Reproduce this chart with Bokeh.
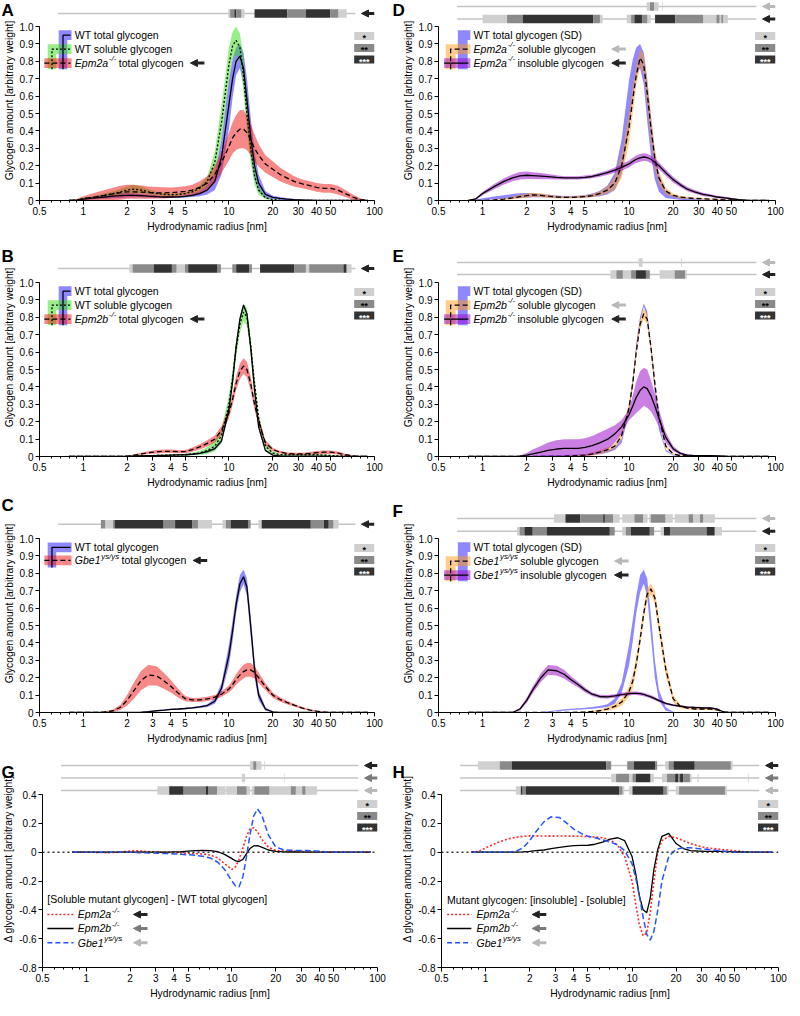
import numpy as np
from bokeh.plotting import figure
from bokeh.layouts import row, column
from bokeh.models import (ColumnDataSource, FixedTicker, CustomJSTickFormatter, Span,
                          Arrow, NormalHead, GridBox)
from bokeh.core.properties import value
from bokeh.embed import file_html
from bokeh.resources import INLINE

FONT = "Liberation Sans"

# ---------------------------------------------------------------- data
X = [0.8, 0.9, 1.0, 1.2, 1.4, 1.6, 1.8, 2.0, 2.2, 2.5, 2.8, 3.2, 3.6, 4.0, 4.5,
     5.0, 5.6, 6.3, 7.1, 8.0, 8.9, 10.0, 10.6, 11.2, 11.9, 12.6, 13.3, 14.1, 15.0, 16.0,
     17.8, 20.0, 22.4, 25.0, 28.0, 32.0, 36.0, 40.0, 45.0, 50.0, 56.0, 63.0, 71.0, 80.0, 90.0]

XTICKS = [0.5, 1, 2, 3, 4, 5, 10, 20, 30, 40, 50, 100]
XMINOR = [0.6, 0.7, 0.8, 0.9, 6, 7, 8, 9, 60, 70, 80, 90]
YTICKS_AF = [0, 0.1, 0.2, 0.3, 0.4, 0.5, 0.6, 0.7, 0.8, 0.9, 1.0]
YTICKS_GH = [-0.8, -0.6, -0.4, -0.2, 0, 0.2, 0.4]
LETTERS = ["A", "B", "C", "D", "E", "F", "G", "H"]
# (column, row) of each lettered panel
LETTER_CELLS = [(0, 1), (0, 2), (0, 3), (1, 1), (1, 2), (1, 3), (0, 4), (1, 4)]

# WT total glycogen (group 1: A / D)
WT_TOTAL_1 = [0, .002, .008, .015, .02, .025, .028, .03, .03, .028, .025, .022, .02, .02, .021,
              .024, .03, .04, .06, .11, .25, .55, .70, .80, .83, .76, .58, .37, .20, .10,
              .035, .018, .012, .008, .005, .003, .002, .001, 0, 0, 0, 0, 0, 0, 0]
WT_TOTAL_1_SD = [0, .002, .005, .008, .01, .012, .013, .013, .012, .01, .008, .007, .006, .006, .006,
                 .007, .01, .015, .025, .05, .1, .14, .11, .08, .07, .09, .12, .11, .08, .05,
                 .02, .01, .008, .006, .004, .003, .002, .001, 0, 0, 0, 0, 0, 0, 0]
WT_SOL_1 = [0, .003, .01, .02, .03, .04, .05, .06, .065, .06, .05, .04, .035, .033, .035,
            .04, .05, .07, .11, .22, .45, .78, .89, .92, .88, .72, .50, .30, .14, .06,
            .015, .005, .002, 0, 0, 0, 0, 0, 0, 0, 0, 0, 0, 0, 0]
WT_SOL_1_SD = [0, .002, .005, .008, .01, .013, .016, .02, .025, .02, .015, .01, .008, .007, .007,
               .008, .01, .015, .03, .06, .1, .1, .08, .08, .08, .1, .1, .08, .05, .025,
               .008, .003, .001, 0, 0, 0, 0, 0, 0, 0, 0, 0, 0, 0, 0]
EPM2A_TOTAL = [0, .003, .01, .02, .03, .038, .045, .05, .05, .048, .045, .044, .044, .045, .048,
               .052, .06, .075, .10, .15, .22, .31, .36, .39, .41, .41, .39, .35, .30, .26,
               .21, .18, .15, .13, .11, .095, .085, .075, .07, .07, .06, .04, .02, .005, 0]
EPM2A_TOTAL_SD = [0, .005, .015, .025, .03, .035, .04, .04, .04, .038, .035, .033, .032, .03, .03,
                  .03, .03, .035, .04, .05, .06, .08, .09, .1, .11, .11, .1, .09, .08, .065,
                  .05, .045, .04, .035, .03, .025, .025, .025, .025, .025, .025, .02, .015, .008, 0]

# group 2: B / E
WT_TOTAL_2 = [0, 0, 0, 0, 0, 0, 0, 0, .002, .004, .005, .006, .007, .008, .009,
              .01, .013, .018, .028, .045, .09, .27, .43, .63, .79, .87, .82, .63, .38, .17,
              .035, .008, .003, .002, .002, .002, .002, .002, .002, .001, 0, 0, 0, 0, 0]
WT_TOTAL_2_SD = [0, 0, 0, 0, 0, 0, 0, 0, .001, .002, .002, .002, .002, .002, .002,
                 .003, .004, .005, .006, .008, .012, .02, .02, .02, .015, .01, .015, .02, .02, .015,
                 .005, .002, .001, .001, .001, .001, .001, .001, .001, 0, 0, 0, 0, 0, 0]
WT_SOL_2 = [0, 0, 0, 0, 0, 0, 0, 0, .002, .004, .005, .006, .007, .008, .009,
            .01, .015, .02, .035, .06, .12, .30, .45, .62, .76, .83, .80, .64, .42, .22,
            .06, .02, .01, .01, .01, .01, .01, .01, .008, .006, .004, .002, 0, 0, 0]
WT_SOL_2_SD = [0, 0, 0, 0, 0, 0, 0, 0, .001, .002, .003, .003, .003, .004, .004,
               .005, .008, .012, .02, .03, .04, .05, .05, .05, .05, .05, .05, .05, .04, .03,
               .015, .008, .005, .004, .004, .004, .004, .004, .003, .003, .002, .001, 0, 0, 0]
EPM2B_TOTAL = [0, 0, 0, 0, 0, 0, 0, .002, .006, .015, .022, .027, .03, .03, .028,
               .028, .04, .055, .075, .10, .15, .25, .33, .42, .49, .52, .50, .42, .30, .20,
               .08, .04, .025, .018, .015, .015, .018, .022, .025, .025, .02, .01, .004, 0, 0]
EPM2B_TOTAL_SD = [0, 0, 0, 0, 0, 0, 0, .002, .004, .006, .008, .01, .01, .01, .01,
                  .01, .012, .015, .018, .02, .025, .03, .035, .04, .045, .045, .045, .04, .03, .025,
                  .015, .01, .008, .007, .007, .007, .008, .009, .01, .01, .009, .006, .003, 0, 0]

# group 3: C / F
WT_TOTAL_3 = [0, 0, 0, 0, 0, 0, 0, 0, 0, .002, .005, .01, .014, .018, .02,
              .023, .027, .032, .04, .065, .14, .33, .47, .62, .74, .78, .72, .50, .25, .10,
              .02, .003, 0, 0, 0, 0, 0, 0, 0, 0, 0, 0, 0, 0, 0]
WT_TOTAL_3_SD = [0, 0, 0, 0, 0, 0, 0, 0, 0, .001, .002, .003, .004, .004, .004,
                 .004, .005, .006, .008, .015, .03, .06, .06, .05, .05, .04, .05, .06, .05, .03,
                 .01, .002, 0, 0, 0, 0, 0, 0, 0, 0, 0, 0, 0, 0, 0]
GBE1_TOTAL = [0, 0, 0, 0, .003, .01, .03, .07, .12, .185, .215, .21, .18, .15, .11,
              .08, .072, .073, .078, .088, .105, .135, .16, .19, .215, .235, .245, .245, .23, .20,
              .15, .10, .075, .058, .042, .025, .014, .008, .003, 0, 0, 0, 0, 0, 0]
GBE1_TOTAL_SD = [0, 0, 0, 0, .003, .007, .015, .03, .045, .055, .06, .055, .045, .035, .025,
                 .015, .012, .012, .012, .013, .015, .02, .025, .03, .035, .04, .04, .04, .035, .03,
                 .02, .015, .012, .01, .008, .006, .004, .003, .002, 0, 0, 0, 0, 0, 0]

# soluble / insoluble fractions
EPM2A_SOL = [0, 0, 0, .003, .008, .015, .022, .028, .032, .03, .025, .02, .018, .018, .02,
             .022, .028, .04, .06, .10, .20, .42, .58, .72, .82, .78, .62, .42, .24, .13,
             .055, .03, .02, .015, .012, .01, .008, .006, .004, .003, .002, 0, 0, 0, 0]
EPM2A_SOL_SD = [0, 0, 0, .003, .005, .008, .01, .012, .012, .012, .01, .008, .007, .007, .007,
                .008, .01, .012, .02, .04, .07, .09, .08, .06, .05, .06, .08, .08, .06, .04,
                .02, .01, .008, .006, .005, .004, .003, .003, .002, .002, .001, 0, 0, 0, 0]
EPM2A_INSOL = [0, .01, .04, .08, .11, .13, .142, .145, .143, .14, .137, .133, .13, .13, .13,
               .133, .138, .148, .16, .175, .19, .21, .225, .237, .245, .25, .247, .237, .22, .20,
               .16, .12, .09, .065, .05, .035, .028, .02, .015, .01, .005, .002, 0, 0, 0]
EPM2A_INSOL_SD = [0, .005, .01, .015, .018, .02, .022, .022, .02, .018, .015, .012, .01, .01, .01,
                  .01, .01, .012, .013, .015, .018, .02, .02, .022, .022, .022, .022, .022, .022, .02,
                  .018, .016, .014, .012, .01, .009, .008, .007, .006, .005, .003, .001, 0, 0, 0]
EPM2B_SOL = [0, 0, 0, 0, 0, 0, 0, 0, 0, 0, 0, 0, .002, .003, .005,
             .008, .015, .025, .038, .06, .12, .28, .42, .60, .76, .82, .79, .63, .42, .23,
             .06, .015, .005, .003, .002, .002, .001, 0, 0, 0, 0, 0, 0, 0, 0]
EPM2B_SOL_SD = [0, 0, 0, 0, 0, 0, 0, 0, 0, 0, 0, 0, .002, .003, .004,
                .006, .01, .012, .014, .015, .02, .03, .03, .03, .03, .03, .03, .03, .025, .02,
                .01, .005, .002, .001, .001, .001, 0, 0, 0, 0, 0, 0, 0, 0, 0]
EPM2B_INSOL = [0, 0, 0, 0, 0, 0, .002, .008, .015, .025, .035, .043, .047, .047, .047,
               .053, .063, .078, .098, .13, .17, .24, .29, .34, .38, .40, .39, .35, .29, .22,
               .11, .045, .018, .008, .005, .005, .005, .004, .002, .001, 0, 0, 0, 0, 0]
EPM2B_INSOL_SD = [0, 0, 0, 0, 0, 0, .004, .012, .025, .035, .045, .05, .052, .052, .052,
                  .052, .055, .06, .06, .05, .04, .03, .06, .09, .11, .11, .11, .09, .07, .05,
                  .03, .015, .008, .005, .004, .004, .004, .003, .002, .001, 0, 0, 0, 0, 0]
GBE1_SOL = [0, 0, 0, 0, 0, 0, 0, 0, 0, 0, 0, 0, 0, 0, .002,
            .003, .006, .01, .02, .035, .06, .12, .18, .28, .42, .57, .68, .71, .66, .50,
            .25, .08, .035, .025, .02, .02, .02, .015, .003, 0, 0, 0, 0, 0, 0]
GBE1_SOL_SD = [0, 0, 0, 0, 0, 0, 0, 0, 0, 0, 0, 0, 0, 0, .001,
               .002, .004, .006, .01, .015, .02, .03, .04, .04, .04, .04, .035, .03, .04, .045,
               .04, .02, .01, .006, .006, .006, .006, .005, .002, 0, 0, 0, 0, 0, 0]
GBE1_INSOL = [0, 0, 0, 0, 0, 0, .02, .07, .13, .20, .245, .24, .22, .19, .16,
              .13, .105, .092, .09, .095, .103, .108, .11, .11, .108, .104, .097, .09, .08, .068,
              .052, .042, .036, .031, .029, .027, .026, .02, 0, 0, 0, 0, 0, 0, 0]
GBE1_INSOL_SD = [0, 0, 0, 0, 0, 0, .008, .015, .02, .025, .028, .028, .025, .02, .016,
                 .013, .01, .01, .01, .01, .01, .01, .01, .01, .01, .01, .01, .01, .009, .008,
                 .007, .006, .005, .005, .005, .005, .005, .004, 0, 0, 0, 0, 0, 0, 0]

# differences (G: soluble mutant - WT total; H: insoluble - soluble)
G_EPM2A = [0, 0, 0, -.002, -.003, -.002, .003, .008, .01, .006, .002, 0, -.002, -.003, -.005,
           -.007, -.01, -.012, -.02, -.04, -.08, -.12, -.10, -.05, .03, .11, .16, .17, .14, .09,
           .035, .012, .008, .008, .007, .005, .003, .002, .001, 0, 0, 0, 0, 0, 0]
G_EPM2B = [0, 0, 0, 0, 0, 0, 0, 0, 0, 0, 0, 0, 0, .002, .004,
           .007, .01, .012, .01, .003, -.015, -.045, -.06, -.065, -.05, -.01, .025, .043, .046, .035,
           .015, .005, .002, .001, .001, 0, 0, 0, 0, 0, 0, 0, 0, 0, 0]
G_GBE1 = [0, 0, 0, 0, 0, 0, 0, 0, -.002, -.004, -.006, -.008, -.01, -.012, -.015,
          -.018, -.022, -.028, -.04, -.07, -.12, -.20, -.235, -.24, -.17, -.03, .12, .25, .30, .26,
          .12, .035, .018, .013, .012, .012, .01, .006, .002, 0, 0, 0, 0, 0, 0]
H_EPM2A = [0, .005, .03, .065, .09, .103, .11, .113, .113, .112, .111, .112, .112, .111, .11,
           .108, .105, .10, .085, .045, -.03, -.20, -.36, -.50, -.58, -.56, -.42, -.20, 0, .08,
           .11, .10, .08, .06, .045, .03, .025, .02, .015, .01, .005, 0, 0, 0, 0]
H_EPM2B = [0, 0, 0, 0, 0, 0, .002, .005, .01, .015, .025, .033, .04, .045, .047,
           .048, .055, .07, .09, .10, .08, -.03, -.15, -.30, -.40, -.42, -.32, -.12, .02, .11,
           .13, .06, .025, .01, .008, .006, .005, .005, .004, .002, .001, 0, 0, 0, 0]
H_GBE1 = [0, 0, 0, 0, 0, .005, .03, .08, .14, .21, .245, .24, .20, .16, .13,
          .11, .10, .085, .07, .05, .01, -.08, -.18, -.30, -.45, -.57, -.61, -.55, -.40, -.20,
          -.03, .02, .03, .03, .025, .02, .015, .01, .005, 0, 0, 0, 0, 0, 0]

# significance tracks: (start radius, end radius, level 1=*, 2=**, 3=***)
SIG_A = [(9.9, 10.2, 1), (10.2, 10.9, 2), (10.9, 11.2, 3), (11.2, 12.2, 2), (12.2, 12.8, 1),
         (15.0, 25.2, 3), (25.2, 33.7, 2), (33.7, 49.7, 3), (49.7, 56.6, 2), (56.6, 64.4, 1)]
SIG_B = [(2.07, 2.18, 1), (2.18, 3.05, 2), (3.05, 4.06, 3), (4.06, 4.38, 2), (4.38, 4.99, 1),
         (4.99, 5.25, 2), (5.25, 8.36, 3), (8.36, 8.81, 2), (10.55, 11.22, 2), (11.22, 13.8, 3),
         (13.8, 14.39, 2), (16.37, 28.2, 3), (28.2, 33.8, 2), (33.8, 35.6, 1), (35.6, 61.2, 2),
         (61.2, 64.4, 3), (64.4, 69.6, 1)]
SIG_C = [(1.32, 1.42, 2), (1.42, 1.6, 1), (1.6, 1.64, 2), (1.64, 3.56, 3), (3.56, 4.27, 2),
         (4.27, 5.62, 3), (5.62, 6.13, 2), (6.13, 7.66, 1), (9.04, 9.52, 1), (9.52, 10.28, 2),
         (10.28, 13.52, 3), (13.52, 14.09, 2), (15.96, 16.8, 1), (16.8, 36.5, 3), (36.5, 44.9, 2),
         (44.9, 48.5, 3), (48.5, 52.4, 2), (52.4, 56.6, 1)]
SIG_D1 = [(13.2, 13.9, 1), (13.9, 14.8, 2), (14.8, 15.9, 1), (16.8, 17.0, 1)]
SIG_D2 = [(1.0, 1.47, 1), (1.47, 1.88, 2), (1.88, 5.71, 3), (5.71, 6.33, 2), (6.33, 6.6, 1),
          (9.66, 10.33, 1), (10.33, 10.88, 2), (10.88, 12.25, 3), (12.25, 13.38, 2), (13.38, 14.08, 1),
          (15.06, 20.7, 3), (20.7, 32.2, 2), (32.2, 39.5, 1), (39.5, 41.6, 2), (41.6, 42.7, 1),
          (42.7, 43.8, 2), (43.8, 47.3, 1)]
SIG_E1 = [(11.63, 12.38, 1), (22.6, 22.9, 1)]
SIG_E2 = [(7.47, 8.19, 1), (8.19, 9.08, 2), (9.08, 10.33, 1), (10.33, 11.16, 2), (11.16, 13.04, 3),
          (13.04, 13.86, 2), (16.19, 20.5, 1), (20.5, 24.2, 2), (24.2, 24.8, 1)]
SIG_F1 = [(3.07, 3.68, 1), (3.68, 4.64, 3), (4.64, 6.66, 2), (6.66, 6.84, 3), (6.84, 7.78, 2),
          (7.78, 8.63, 1), (8.99, 10.88, 1), (10.88, 12.51, 2), (12.51, 13.38, 1), (13.73, 14.08, 1),
          (14.08, 17.77, 2), (17.77, 19.9, 1), (20.5, 25.5, 1), (25.5, 27.5, 2), (27.5, 30.5, 1),
          (30.5, 32.2, 2), (32.2, 38.5, 1)]
SIG_F2 = [(1.72, 1.79, 1), (1.79, 1.93, 2), (1.93, 2.2, 3), (2.2, 2.74, 2), (2.74, 7.39, 3),
          (7.39, 7.98, 2), (8.99, 9.5, 1), (9.5, 10.28, 2), (10.28, 13.86, 3), (13.86, 14.83, 2),
          (16.44, 17.31, 1), (17.31, 19.19, 3), (19.19, 33.85, 2), (33.85, 38.5, 3), (38.5, 43.1, 1)]
SIG_G1 = [(13.32, 14.02, 1), (14.02, 14.77, 2), (14.77, 15.95, 1), (16.7, 16.9, 1)]
SIG_G2 = [(11.7, 12.32, 1), (22.8, 23.0, 1)]
SIG_G3 = [(3.08, 3.71, 1), (3.71, 4.66, 3), (4.66, 6.63, 2), (6.63, 6.91, 3), (6.91, 7.94, 2),
          (7.94, 9.04, 1), (9.13, 10.83, 1), (10.83, 12.64, 2), (12.64, 13.32, 1), (13.67, 14.25, 1),
          (14.25, 18.15, 2), (18.15, 25.4, 1), (25.4, 27.5, 2), (27.5, 30.4, 1), (30.4, 32.1, 2),
          (32.1, 38.4, 1)]
SIG_H1 = [(0.89, 1.25, 1), (1.25, 1.51, 2), (1.51, 6.66, 3), (6.66, 7.2, 2), (9.27, 10.28, 2),
          (10.28, 14.45, 3), (14.45, 14.83, 2), (16.87, 17.77, 1), (17.77, 19.19, 2), (19.19, 26.8, 3),
          (26.8, 47.3, 2), (47.3, 48.6, 1)]
SIG_H2 = [(7.2, 7.78, 1), (7.78, 9.56, 2), (9.56, 10.07, 1), (10.07, 10.6, 2), (10.6, 13.38, 3),
          (13.38, 14.08, 1), (16.02, 17.31, 1), (17.31, 19.69, 2), (19.69, 20.74, 3), (20.74, 21.28, 2),
          (21.28, 22.4, 3), (22.4, 24.85, 2), (24.85, 25.5, 1), (28.0, 28.5, 1), (61.8, 62.6, 1)]
SIG_H3 = [(1.61, 1.74, 1), (1.74, 1.79, 3), (1.79, 1.88, 2), (1.88, 8.19, 3), (8.19, 8.63, 2),
          (8.63, 8.85, 1), (9.56, 10.07, 1), (10.07, 16.44, 3), (16.44, 17.31, 2), (17.31, 17.77, 1),
          (19.9, 20.95, 1), (20.95, 43.1, 2), (43.1, 44.5, 1)]
TRACK_SPAN = (0.67, 74.0)

# ---------------------------------------------------------------- styling / layout
BLUE, GREEN, RED, ORANGE, PURPLE = "#2211ff", "#33dd11", "#ee1111", "#ff9a1a", "#9a00c8"
BAND_ALPHA = 0.5
DASH = {"solid": "solid", "dotted": "2 2", "dashed": "5 3"}
SHADES = {1: "#cfcfcf", 2: "#8a8a8a", 3: "#333333"}
ARROWC = {"dark": "#222222", "mid": "#7a7a7a", "light": "#b8b8b8"}

ROWS = {
    1: dict(above=26, ppu=174.0, ymin=0.0, ymax=1.0, bottom=38, letter=(19, 19)),
    2: dict(above=44, ppu=174.0, ymin=0.0, ymax=1.0, bottom=38, letter=(29, 29)),
    3: dict(above=44, ppu=174.0, ymin=0.0, ymax=1.0, bottom=38, letter=(36, 30)),
    4: dict(above=44, ppu=173.0 / 1.2, ymin=-0.8, ymax=0.4, bottom=32, letter=(25, 25)),
}
COLS = {0: dict(fw=335, bl=38, br=15), 1: dict(fw=337, bl=49, br=10)}
PPD = {c: COLS[c]["fw"] / np.log10(200.0) for c in COLS}
PAGE_W = sum(COLS[c]["fw"] + COLS[c]["bl"] + COLS[c]["br"] for c in COLS)

CW = {' ': 278, '.': 278, '-': 333, '/': 278, '(': 333, ')': 333, '[': 278, ']': 278, ':': 278,
      'A': 667, 'B': 667, 'C': 722, 'D': 722, 'E': 667, 'G': 778, 'M': 833, 'S': 667, 'T': 611, 'W': 944,
      'a': 556, 'b': 556, 'c': 500, 'd': 556, 'e': 556, 'g': 556, 'h': 556, 'i': 222, 'l': 222,
      'm': 833, 'n': 556, 'o': 556, 'p': 556, 'r': 333, 's': 500, 't': 278, 'u': 556, 'y': 500, 'w': 722}


def text_w(s, size):
    return sum(CW.get(ch, 556) for ch in s) * size / 1000.0


def rich(p, x, y, parts, size=10.5, color="black"):
    off = 0.0
    for txt, st in parts:
        sup = st in ("sup", "supi")
        fs = size * 0.74 if sup else size
        fstyle = "italic" if st in ("i", "supi") else "normal"
        p.text(x=[x], y=[y], text=[txt], x_offset=off, y_offset=(-size * 0.4 if sup else 0),
               text_font=value(FONT), text_font_size=f"{fs:.1f}px", text_font_style=fstyle,
               text_baseline="middle", text_align="left", text_color=color)
        off += text_w(txt, fs) + (0.8 if st == "i" else 0) + (2.5 if sup else 0)
    return off


def arrow(p, x_tip, y, color, length_px, ppd, width=3, head=7):
    x_tail = x_tip * 10 ** (length_px / ppd)
    p.add_layout(Arrow(end=NormalHead(size=head, fill_color=color, line_color=color, line_width=1),
                       x_start=x_tail, y_start=y, x_end=x_tip, y_end=y,
                       line_color=color, line_width=width))


def make_panel(col, rk, ylabel):
    r, c = ROWS[rk], COLS[col]
    ppu = r["ppu"]
    fh = int(round(r["above"] + ppu * (r["ymax"] - r["ymin"])))
    ytop = r["ymax"] + r["above"] / ppu
    p = figure(x_axis_type="log", x_range=(0.5, 100), y_range=(r["ymin"], ytop),
               frame_width=c["fw"], frame_height=fh,
               min_border_left=c["bl"], min_border_right=c["br"], min_border_top=0,
               min_border_bottom=r["bottom"], toolbar_location=None, output_backend="svg", title=None)
    p.outline_line_color = None
    p.xgrid.visible = False
    p.ygrid.visible = False
    p.xaxis.ticker = FixedTicker(ticks=XTICKS, minor_ticks=XMINOR)
    p.xaxis.formatter = CustomJSTickFormatter(code="return String(tick);")
    p.xaxis.axis_label = "Hydrodynamic radius [nm]"
    p.yaxis.ticker = FixedTicker(ticks=YTICKS_AF if rk < 4 else YTICKS_GH)
    p.yaxis.formatter = CustomJSTickFormatter(code="return Math.abs(tick) < 1e-9 ? '0' : tick.toFixed(1);")
    p.yaxis.bounds = (r["ymin"], r["ymax"])
    p.yaxis.axis_label = ylabel
    for ax in (p.xaxis[0], p.yaxis[0]):
        ax.axis_line_color = "black"
        ax.major_tick_line_color = "black"
        ax.minor_tick_line_color = "black"
        ax.major_tick_out = 4
        ax.major_tick_in = 0
        ax.minor_tick_out = 2
        ax.minor_tick_in = 0
        ax.major_label_text_font = FONT
        ax.major_label_text_font_size = "10px"
        ax.major_label_text_color = "black"
        ax.axis_label_text_font = FONT
        ax.axis_label_text_font_size = "10.3px"
        ax.axis_label_text_font_style = "normal"
        ax.axis_label_text_color = "black"
    p.xaxis.major_label_standoff = 2
    p.xaxis.axis_label_standoff = 3
    p.yaxis.major_label_standoff = 2
    p.yaxis.axis_label_standoff = 2
    return p


def bands(p, series):
    for mean, sd, color in series:
        lo = [m - s for m, s in zip(mean, sd)]
        hi = [m + s for m, s in zip(mean, sd)]
        p.varea(x=X, y1=lo, y2=hi, fill_color=color, fill_alpha=BAND_ALPHA)


def lines(p, series, width=1.3):
    for ys, color, dash in series:
        p.line(x=X, y=ys, line_color=color, line_width=width, line_dash=DASH[dash])


def tracks(p, col, rk, specs):
    r = ROWS[rk]
    ppu = r["ppu"]
    h = 8.5 / ppu
    for off_px, segs, acol in specs:
        y = r["ymax"] + off_px / ppu
        p.line(x=list(TRACK_SPAN), y=[y, y], line_color="#c4c4c4", line_width=1.5)
        src = ColumnDataSource(dict(left=[s[0] for s in segs], right=[s[1] for s in segs],
                                    bottom=[y - h / 2] * len(segs), top=[y + h / 2] * len(segs),
                                    color=[SHADES[s[2]] for s in segs]))
        p.quad(left="left", right="right", bottom="bottom", top="top", fill_color="color",
               line_color=None, source=src)
        arrow(p, 100 * 10 ** (-13 / PPD[col]), y, ARROWC[acol], 13, PPD[col])


KEY_X0 = 72.5


def key_boxes(p, rk):
    r = ROWS[rk]
    ppu, top = r["ppu"], r["ymax"]
    for a, b, lvl, txt, tc in [(5.5, 13.5, 1, "*", "black"), (17.5, 25.5, 2, "**", "black"),
                               (29.0, 37.0, 3, "***", "white")]:
        p.quad(left=[KEY_X0], right=[100], top=[top - a / ppu], bottom=[top - b / ppu],
               fill_color=SHADES[lvl], line_color=None)
        p.text(x=[(KEY_X0 * 100) ** 0.5], y=[top - (a + b) / 2 / ppu], text=[txt], y_offset=2,
               text_align="center", text_baseline="middle", text_font_size="9px",
               text_font_style="bold", text_color=tc, text_font=value(FONT))


LEG = {0: dict(xv=[0.725, 0.609], x_last=0.54, x_line_end=0.817, x_band_end=0.83, f=1.07, text_x=0.874),
       1: dict(xv=[0.732, 0.605], x_last=0.546, x_line_end=0.80, x_band_end=0.825, f=1.08, text_x=0.868)}


def legend(p, col, items, rows, y_bottom, xv=None, hb=0.028, gap=5):
    g = dict(LEG[col])
    if xv is not None:
        g["xv"] = xv
    n = len(items)
    for i, it in enumerate(items):
        if not it.get("band"):
            continue
        y = rows[i]
        if i == n - 1:
            xs = [g["x_last"], g["x_band_end"], g["x_band_end"], g["x_last"]]
            ys = [y + hb, y + hb, y - hb, y - hb]
        else:
            xvi, f = g["xv"][i], g["f"]
            xs = [xvi / f, g["x_band_end"], g["x_band_end"], xvi * f, xvi * f, xvi / f]
            ys = [y + hb, y + hb, y - hb, y - hb, y_bottom, y_bottom]
        p.patch(xs, ys, fill_color=it["band"], fill_alpha=BAND_ALPHA, line_color=None)
    widths = []
    for i, it in enumerate(items):
        y = rows[i]
        if it.get("dash"):
            if i == n - 1:
                p.line([g["x_last"], g["x_line_end"]], [y, y], line_color="black", line_width=1.3,
                       line_dash=DASH[it["dash"]])
            else:
                xvi = g["xv"][i]
                p.line([xvi, xvi, g["x_line_end"]], [y_bottom, y, y], line_color="black", line_width=1.3,
                       line_dash=DASH[it["dash"]])
        widths.append(rich(p, g["text_x"], y, it["text"]))
    wmax = max(widths)
    for i, it in enumerate(items):
        if it.get("arrow"):
            tip = g["text_x"] * 10 ** ((wmax + gap) / PPD[col])
            arrow(p, tip, rows[i], ARROWC[it["arrow"]], 14, PPD[col])


def diff_legend(p, col, header, items, header_y, rows):
    g = LEG[col]
    p.text(x=[g["x_last"]], y=[header_y], text=[header], text_font=value(FONT), text_font_size="10.5px",
           text_baseline="middle", text_align="left", text_color="black")
    widths = []
    for i, (parts, color, dash, acol) in enumerate(items):
        y = rows[i]
        p.line([g["x_last"], g["x_line_end"]], [y, y], line_color=color, line_width=1.5, line_dash=DASH[dash])
        widths.append(rich(p, g["text_x"], y, parts))
    wmax = max(widths)
    for i, (parts, color, dash, acol) in enumerate(items):
        tip = g["text_x"] * 10 ** ((wmax + 9) / PPD[col])
        arrow(p, tip, rows[i], ARROWC[acol], 14, PPD[col])


YL = "Glycogen amount [arbitrary weight]"
YL_D = "\u0394 glycogen amount [arbitrary weight]"
ROWS3 = [0.95, 0.87, 0.79]
ROWS2 = [0.949, 0.874]

EPM2A = [("Epm2a", "i"), ("-/-", "supi")]
EPM2B = [("Epm2b", "i"), ("-/-", "supi")]
GBE1 = [("Gbe1", "i"), ("ys/ys", "supi")]

# ---- A
pA = make_panel(0, 1, YL)
bands(pA, [(WT_TOTAL_1, WT_TOTAL_1_SD, BLUE), (WT_SOL_1, WT_SOL_1_SD, GREEN), (EPM2A_TOTAL, EPM2A_TOTAL_SD, RED)])
lines(pA, [(WT_TOTAL_1, "black", "solid"), (WT_SOL_1, "black", "dotted"), (EPM2A_TOTAL, "black", "dashed")])
tracks(pA, 0, 1, [(13, SIG_A, "dark")])
key_boxes(pA, 1)
legend(pA, 0, [dict(band=BLUE, dash="solid", text=[("WT total glycogen", "n")]),
               dict(band=GREEN, dash="dotted", text=[("WT soluble glycogen", "n")]),
               dict(band=RED, dash="dashed", text=EPM2A + [(" total glycogen", "n")], arrow="dark")],
       ROWS3, 0.755, gap=4)

# ---- B
pB = make_panel(0, 2, YL)
bands(pB, [(WT_TOTAL_2, WT_TOTAL_2_SD, BLUE), (WT_SOL_2, WT_SOL_2_SD, GREEN), (EPM2B_TOTAL, EPM2B_TOTAL_SD, RED)])
lines(pB, [(WT_TOTAL_2, "black", "solid"), (WT_SOL_2, "black", "dotted"), (EPM2B_TOTAL, "black", "dashed")])
tracks(pB, 0, 2, [(14, SIG_B, "dark")])
key_boxes(pB, 2)
legend(pB, 0, [dict(band=BLUE, dash="solid", text=[("WT total glycogen", "n")]),
               dict(band=GREEN, dash="dotted", text=[("WT soluble glycogen", "n")]),
               dict(band=RED, dash="dashed", text=EPM2B + [(" total glycogen", "n")], arrow="dark")],
       ROWS3, 0.755, gap=4)

# ---- C
pC = make_panel(0, 3, YL)
bands(pC, [(WT_TOTAL_3, WT_TOTAL_3_SD, BLUE), (GBE1_TOTAL, GBE1_TOTAL_SD, RED)])
lines(pC, [(WT_TOTAL_3, "black", "solid"), (GBE1_TOTAL, "black", "dashed")])
tracks(pC, 0, 3, [(14.3, SIG_C, "dark")])
key_boxes(pC, 3)
legend(pC, 0, [dict(band=BLUE, dash="solid", text=[("WT total glycogen", "n")]),
               dict(band=RED, dash="dashed", text=GBE1 + [(" total glycogen", "n")], arrow="dark")],
       ROWS2, 0.834, xv=[0.609], gap=4)

# ---- D
pD = make_panel(1, 1, YL)
bands(pD, [(WT_TOTAL_1, WT_TOTAL_1_SD, BLUE), (EPM2A_SOL, EPM2A_SOL_SD, ORANGE), (EPM2A_INSOL, EPM2A_INSOL_SD, PURPLE)])
lines(pD, [(EPM2A_SOL, "black", "dashed"), (EPM2A_INSOL, "black", "solid")])
tracks(pD, 1, 1, [(20, SIG_D1, "light"), (7.5, SIG_D2, "dark")])
key_boxes(pD, 1)
legend(pD, 1, [dict(band=BLUE, text=[("WT total glycogen (SD)", "n")]),
               dict(band=ORANGE, dash="dashed", text=EPM2A + [(" soluble glycogen", "n")], arrow="light"),
               dict(band=PURPLE, dash="solid", text=EPM2A + [(" insoluble glycogen", "n")], arrow="dark")],
       ROWS3, 0.755)

# ---- E
pE = make_panel(1, 2, YL)
bands(pE, [(WT_TOTAL_2, WT_TOTAL_2_SD, BLUE), (EPM2B_SOL, EPM2B_SOL_SD, ORANGE), (EPM2B_INSOL, EPM2B_INSOL_SD, PURPLE)])
lines(pE, [(EPM2B_SOL, "black", "dashed"), (EPM2B_INSOL, "black", "solid")])
tracks(pE, 1, 2, [(20, SIG_E1, "light"), (8, SIG_E2, "dark")])
key_boxes(pE, 2)
legend(pE, 1, [dict(band=BLUE, text=[("WT total glycogen (SD)", "n")]),
               dict(band=ORANGE, dash="dashed", text=EPM2B + [(" soluble glycogen", "n")], arrow="light"),
               dict(band=PURPLE, dash="solid", text=EPM2B + [(" insoluble glycogen", "n")], arrow="dark")],
       ROWS3, 0.755)

# ---- F
pF = make_panel(1, 3, YL)
bands(pF, [(WT_TOTAL_3, WT_TOTAL_3_SD, BLUE), (GBE1_SOL, GBE1_SOL_SD, ORANGE), (GBE1_INSOL, GBE1_INSOL_SD, PURPLE)])
lines(pF, [(GBE1_SOL, "black", "dashed"), (GBE1_INSOL, "black", "solid")])
tracks(pF, 1, 3, [(20, SIG_F1, "light"), (7.3, SIG_F2, "dark")])
key_boxes(pF, 3)
legend(pF, 1, [dict(band=BLUE, text=[("WT total glycogen (SD)", "n")]),
               dict(band=ORANGE, dash="dashed", text=GBE1 + [(" soluble glycogen", "n")], arrow="light"),
               dict(band=PURPLE, dash="solid", text=GBE1 + [(" insoluble glycogen", "n")], arrow="dark")],
       ROWS3, 0.755)

# ---- G
DIFF_ROWS = [-0.432, -0.529, -0.628]
pG = make_panel(0, 4, YL_D)
pG.add_layout(Span(location=0, dimension="width", line_color="#333333", line_dash="2 3", line_width=1.5))
pG.line(x=X, y=G_EPM2A, line_color="#ff2a2a", line_width=1.6, line_dash="2 2")
pG.line(x=X, y=G_EPM2B, line_color="black", line_width=1.3)
pG.line(x=X, y=G_GBE1, line_color="#2255ff", line_width=1.5, line_dash="6 3")
tracks(pG, 0, 4, [(29, SIG_G1, "dark"), (16.5, SIG_G2, "mid"), (4, SIG_G3, "light")])
key_boxes(pG, 4)
diff_legend(pG, 0, "[Soluble mutant glycogen] - [WT total glycogen]",
            [(EPM2A, "#ff2a2a", "dotted", "dark"), (EPM2B, "black", "solid", "mid"),
             (GBE1, "#2255ff", "dashed", "light")], -0.325, DIFF_ROWS)

# ---- H
pH = make_panel(1, 4, YL_D)
pH.add_layout(Span(location=0, dimension="width", line_color="#333333", line_dash="2 3", line_width=1.5))
pH.line(x=X, y=H_EPM2A, line_color="#ff2a2a", line_width=1.6, line_dash="2 2")
pH.line(x=X, y=H_EPM2B, line_color="black", line_width=1.3)
pH.line(x=X, y=H_GBE1, line_color="#2255ff", line_width=1.5, line_dash="6 3")
tracks(pH, 1, 4, [(29, SIG_H1, "dark"), (16.5, SIG_H2, "mid"), (4, SIG_H3, "light")])
key_boxes(pH, 4)
diff_legend(pH, 1, "Mutant glycogen: [insoluble] - [soluble]",
            [(EPM2A, "#ff2a2a", "dotted", "dark"), (EPM2B, "black", "solid", "mid"),
             (GBE1, "#2255ff", "dashed", "light")], -0.334, DIFF_ROWS)

main = column(row(pA, pD), row(pB, pE), row(pC, pF), row(pG, pH))

# ---- transparent overlay carrying the panel letters (outside the plot frames)
row_tops, acc = {}, 0
for rk in (1, 2, 3, 4):
    r = ROWS[rk]
    row_tops[rk] = acc
    acc += int(round(r["above"] + r["ppu"] * (r["ymax"] - r["ymin"]))) + r["bottom"]
PAGE_H = acc
lx, ly = [], []
for col, rk in LETTER_CELLS:
    r = ROWS[rk]
    lx.append(1 if col == 0 else COLS[0]["fw"] + COLS[0]["bl"] + COLS[0]["br"] + 4)
    yy = row_tops[rk] + r["above"] - r["letter"][col] + 3
    ly.append(max(yy, 9))
overlay = figure(width=PAGE_W, height=PAGE_H, x_range=(0, PAGE_W), y_range=(PAGE_H, 0),
                 x_axis_type=None, y_axis_type=None, toolbar_location=None, output_backend="svg",
                 min_border=0, title=None)
overlay.outline_line_color = None
overlay.background_fill_alpha = 0
overlay.border_fill_alpha = 0
overlay.xgrid.visible = False
overlay.ygrid.visible = False
overlay.text(x=lx, y=ly, text=LETTERS, text_font=value(FONT), text_font_size="17px",
             text_font_style="bold", text_baseline="middle", text_align="left", text_color="black")

layout = GridBox(children=[(main, 0, 0), (overlay, 0, 0)])
open("out.html", "w").write(file_html(layout, INLINE))
